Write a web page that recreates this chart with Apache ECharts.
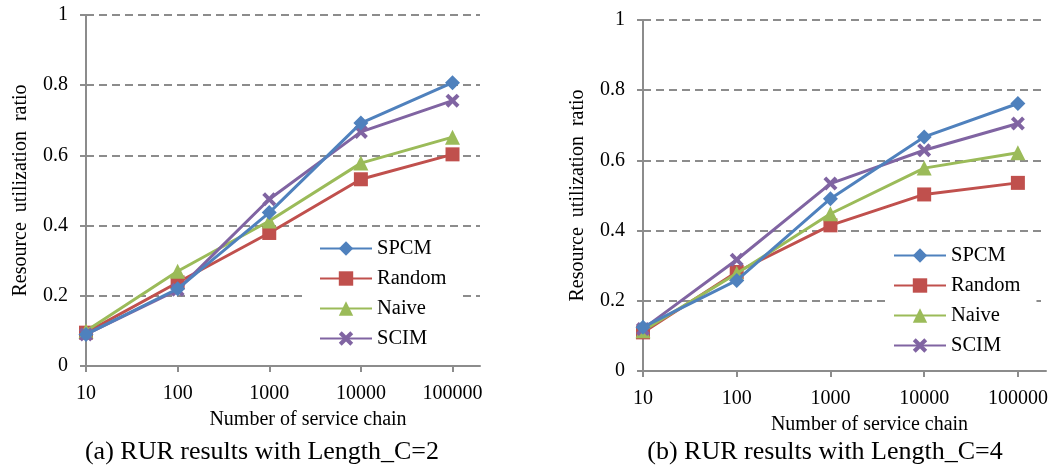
<!DOCTYPE html>
<html><head><meta charset="utf-8">
<script src="https://cdn.jsdelivr.net/npm/echarts@6/dist/echarts.min.js"></script>
<style>html,body{margin:0;padding:0;background:#fff}#c{width:1057px;height:476px}</style>
</head><body><div id="c"></div>
<script>
const categories = ['10', '100', '1000', '10000', '100000'];
const seriesNames = ['SPCM', 'Random', 'Naive', 'SCIM'];
// (a) Length_C=2
const spcmA   = [0.09, 0.22, 0.437, 0.692, 0.807];
const randomA = [0.095, 0.238, 0.379, 0.532, 0.603];
const naiveA  = [0.10, 0.27, 0.413, 0.578, 0.652];
const scimA   = [0.09, 0.217, 0.475, 0.667, 0.756];
// (b) Length_C=4
const spcmB   = [0.125, 0.258, 0.491, 0.667, 0.762];
const randomB = [0.11, 0.282, 0.415, 0.503, 0.536];
const naiveB  = [0.115, 0.278, 0.448, 0.578, 0.622];
const scimB   = [0.12, 0.317, 0.534, 0.629, 0.705];
const yTickValues = [0, 0.2, 0.4, 0.6, 0.8, 1];
const xTitle = 'Number of service chain';
const yTitle = 'Resource  utilization  ratio';
const captions = ['(a) RUR results with Length_C=2', '(b) RUR results with Length_C=4'];

const colors = ['#4F81BD', '#C0504D', '#9BBB59', '#8064A2'];
const symbols = ['diamond', 'rect', 'triangle',
  'path://M0,2 L2,0 L5,3 L8,0 L10,2 L7,5 L10,8 L8,10 L5,7 L2,10 L0,8 L3,5 Z'];
const symbolSizes = [15, 14, 15, 14];
const FONT = '"Liberation Serif", "Times New Roman", serif';
const GRAY = '#8c8c8c';

const chart = echarts.init(document.getElementById('c'), null, {renderer: 'canvas'});

function xAxisCfg(gridIndex) {
  return {
    type: 'value', gridIndex, min: 0, max: 4.3, interval: 1,
    axisLine: {show: true, lineStyle: {color: GRAY, width: 2}},
    axisTick: {show: true, length: 6, lineStyle: {color: GRAY, width: 2}, customValues: [0, 1, 2, 3, 4]},
    axisLabel: {customValues: [0, 1, 2, 3, 4], formatter: v => categories[v] ?? '',
      color: '#000', fontFamily: FONT, fontSize: 20, margin: 18},
    splitLine: {show: false},
    name: xTitle, nameLocation: 'middle', nameGap: 44,
    nameTextStyle: {color: '#000', fontFamily: FONT, fontSize: 20, padding: [0, 0, 0, 50]}
  };
}
function yAxisCfg(gridIndex) {
  return {
    type: 'value', gridIndex, min: 0, max: 1, interval: 0.2,
    axisLine: {show: true, lineStyle: {color: GRAY, width: 2}},
    axisTick: {show: true, length: 6, lineStyle: {color: GRAY, width: 2}},
    axisLabel: {color: '#000', fontFamily: FONT, fontSize: 20, margin: 18,
      formatter: v => String(+v.toFixed(1))},
    splitLine: {show: true, lineStyle: {color: GRAY, width: 2, type: [8, 5]}},
    name: yTitle, nameLocation: 'middle', nameGap: 47,
    nameTextStyle: {color: '#000', fontFamily: FONT, fontSize: 20, padding: [0, 0, 8, 0]}
  };
}
const dataA = [spcmA, randomA, naiveA, scimA];
const dataB = [spcmB, randomB, naiveB, scimB];
const series = [];
[dataA, dataB].forEach((set, g) => {
  set.forEach((vals, k) => {
    series.push({
      type: 'line', name: seriesNames[k], xAxisIndex: g, yAxisIndex: g,
      data: vals.map((v, i) => [i, v]),
      symbol: symbols[k], symbolSize: symbolSizes[k],
      lineStyle: {color: colors[k], width: 3},
      itemStyle: {color: colors[k]},
      z: 2 + (k === 0 ? 3 : k === 3 ? 2 : k === 2 ? 1 : 0)
    });
  });
});
function legendCfg(left, top, padLeft) {
  return {
    orient: 'vertical', left, top,
    data: seriesNames.map(n => ({name: n})),
    backgroundColor: '#fff',
    padding: [6, 16, 8, padLeft],
    itemWidth: 52, itemHeight: 18, itemGap: 9,
    textStyle: {color: '#000', fontFamily: FONT, fontSize: 20.5},
    selectedMode: false, z: 10
  };
}
chart.setOption({
  animation: false,
  backgroundColor: '#fff',
  grid: [
    {left: 86, top: 15, width: 394, height: 351},
    {left: 643, top: 20, width: 403, height: 351}
  ],
  xAxis: [xAxisCfg(0), xAxisCfg(1)],
  yAxis: [yAxisCfg(0), yAxisCfg(1)],
  legend: [legendCfg(303, 232, 16), legendCfg(887, 239, 6)],
  series,
  graphic: [
    {type: 'text', x: 262, y: 452, style: {text: captions[0], fill: '#000', fontFamily: FONT, fontSize: 26, align: 'center', verticalAlign: 'middle'}},
    {type: 'text', x: 825, y: 452, style: {text: captions[1], fill: '#000', fontFamily: FONT, fontSize: 26, align: 'center', verticalAlign: 'middle'}}
  ]
});
</script>
</body></html>
